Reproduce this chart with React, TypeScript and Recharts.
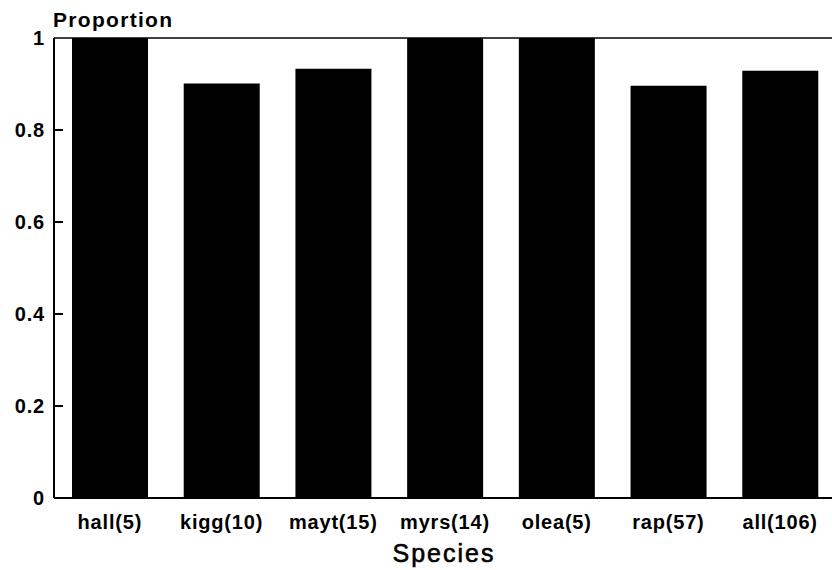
import { BarChart, Bar, XAxis, YAxis, ReferenceLine, Label } from 'recharts'

// species with sample size, as printed under each bar
const species = ['hall(5)', 'kigg(10)', 'mayt(15)', 'myrs(14)', 'olea(5)', 'rap(57)', 'all(106)']
const proportion = [1, 0.901, 0.933, 1, 1, 0.896, 0.929]
const yTicks = [0, 0.2, 0.4, 0.6, 0.8, 1]

const data = species.map((name, i) => ({ name, value: proportion[i] }))

const FONT = 'Arial, "Liberation Sans", sans-serif'

const tickStyle = {
  fontFamily: FONT,
  fontWeight: 'bold',
  fontSize: 20,
  fill: '#000',
  letterSpacing: 0.8,
}

// short inward tick mark, starting at the left edge of the plot
function InnerTick(props: any) {
  const { x1, y1 } = props
  if (x1 == null || y1 == null) return null
  return <path d={`M${x1},${y1}h9`} stroke="#000" strokeWidth={2} fill="none" />
}

export default function App() {
  return (
    <div style={{ position: 'absolute', left: 0, top: 0, width: 832, height: 570, background: '#fff' }}>
      <BarChart
        width={832}
        height={570}
        data={data}
        margin={{ top: 38, right: -4, left: 0, bottom: 0 }}
      >
        <XAxis
          dataKey="name"
          height={72}
          axisLine={{ stroke: '#000', strokeWidth: 2 }}
          tickLine={false}
          tickSize={0}
          tickMargin={17}
          tick={tickStyle}
          interval={0}
        >
          <Label
            content={() => (
              <text
                x={444}
                y={562}
                textAnchor="middle"
                fontFamily={FONT}
                fontSize={25}
                fill="#000"
                stroke="#000"
                strokeWidth={0.6}
                letterSpacing={2}
              >
                Species
              </text>
            )}
          />
        </XAxis>
        <YAxis
          width={54}
          domain={[0, 1]}
          ticks={yTicks}
          interval={0}
          axisLine={{ stroke: '#000', strokeWidth: 2 }}
          tickLine={false}
          tickSize={0}
          tickMargin={9}
          tick={tickStyle}
        >
          <Label
            content={() => (
              <text
                x={53}
                y={27}
                fontFamily={FONT}
                fontWeight="bold"
                fontSize={21}
                fill="#000"
                letterSpacing={1.3}
              >
                Proportion
              </text>
            )}
          />
        </YAxis>
        <ReferenceLine y={1} stroke="#000" strokeWidth={1.5} />
        {yTicks.slice(1, -1).map((t) => (
          <ReferenceLine key={t} y={t} stroke="#000" shape={InnerTick} />
        ))}
        <Bar dataKey="value" fill="#000" barSize={76} isAnimationActive={false} />
      </BarChart>
    </div>
  )
}
